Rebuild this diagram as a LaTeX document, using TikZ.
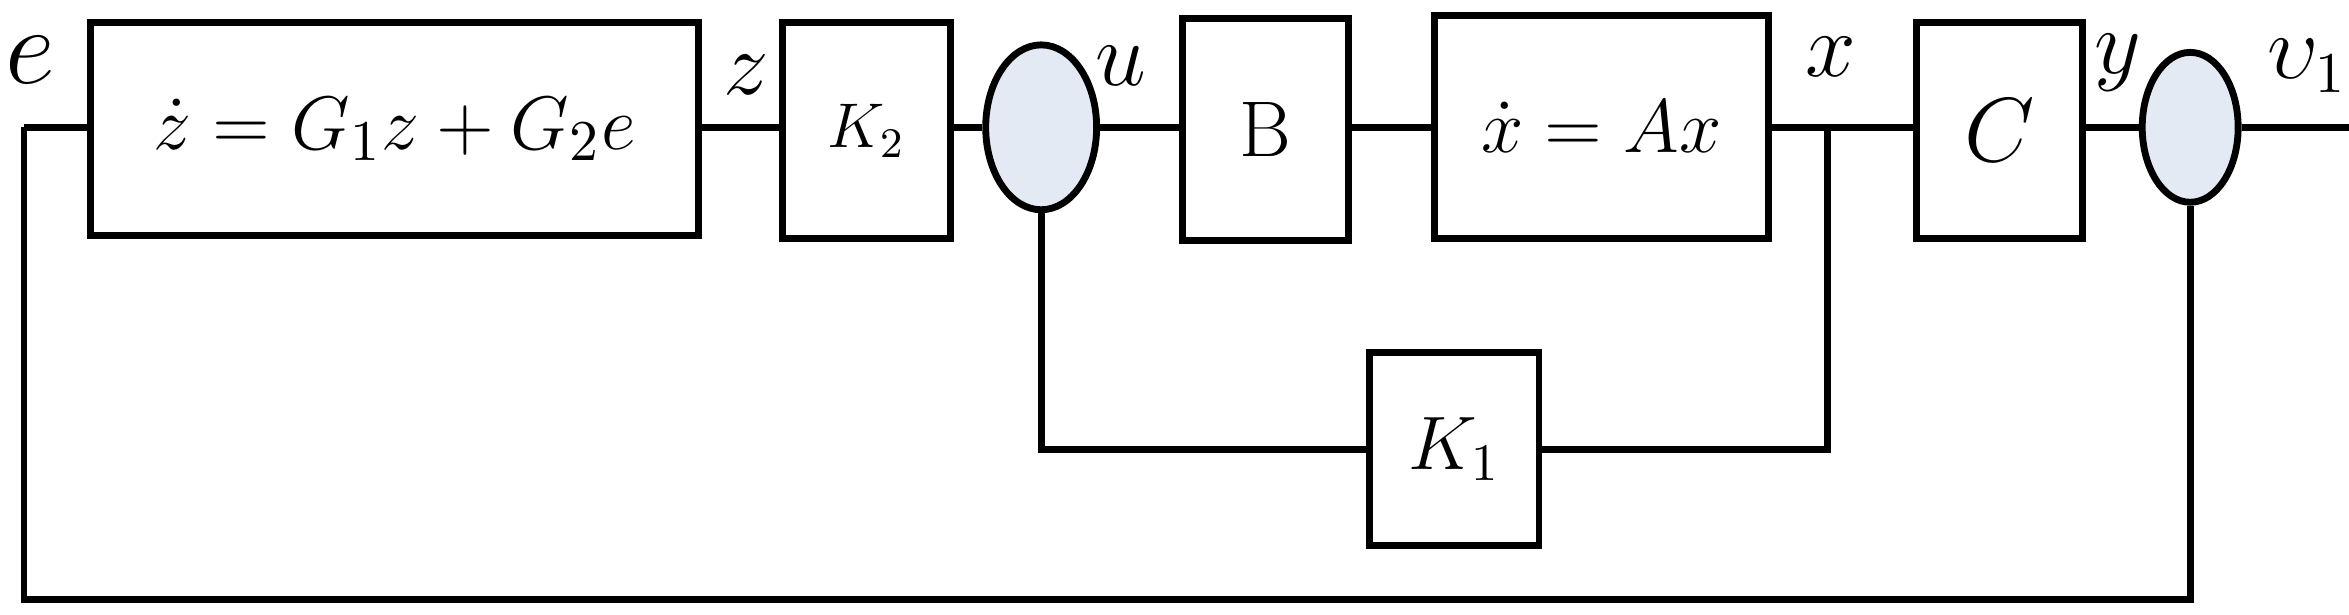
\documentclass[tikz,border=0pt]{standalone}
\usetikzlibrary{shapes.geometric}
\definecolor{sumfill}{RGB}{228,234,244}
\tikzset{
    blk/.style={draw, line width=1.3pt, inner sep=0pt, anchor=north west},
    summer/.style={draw, ellipse, fill=sumfill, line width=1.3pt, inner sep=0pt},
    wire/.style={line width=1.3pt},
    lbl/.style={font=\fontsize{16}{18}\selectfont}
}
\begin{document}
\begin{tikzpicture}[x=0.01cm, y=-0.01cm]
    \useasboundingbox (0,0) rectangle (1568,410);
    % forward path
    \node[blk, minimum width=4.06cm, minimum height=1.42cm] (obs) at (58,13)
        {\fontsize{15}{17}\selectfont $\dot z = G_1 z + G_2 e$};
    \node[blk, minimum width=1.12cm, minimum height=1.44cm] (k2) at (520,13) {\fontsize{12}{14}\selectfont $K_2$};
    \node[summer, minimum width=0.74cm, minimum height=1.10cm] (s1) at (695,85) {};
    \node[blk, minimum width=1.11cm, minimum height=1.48cm] (b) at (787,10) {\fontsize{15}{17}\selectfont B};
    \node[blk, minimum width=2.23cm, minimum height=1.49cm] (plant) at (955,8) {\fontsize{15}{17}\selectfont $\dot x = Ax$};
    \node[blk, minimum width=1.11cm, minimum height=1.44cm] (c) at (1277,13) {\fontsize{17}{19}\selectfont $C$};
    \node[summer, minimum width=0.64cm, minimum height=1.00cm] (s2) at (1462,85) {};
    % feedback gain
    \node[blk, minimum width=1.13cm, minimum height=1.29cm] (k1) at (912,233) {\fontsize{14}{16}\selectfont $K_1$};
    \coordinate (ein) at (16,85);
    \coordinate (xtap) at (1220,85);
    \coordinate (out) at (1568,85);
    % wires
    \draw[wire] (ein) -- (obs.west |- ein);
    \draw[wire] (obs.east |- ein) -- (k2.west |- ein);
    \draw[wire] (k2.east |- ein) -- (s1.west);
    \draw[wire] (s1.east) -- (b.west |- ein);
    \draw[wire] (b.east |- ein) -- (plant.west |- ein);
    \draw[wire] (plant.east |- ein) -- (c.west |- ein);
    \draw[wire] (c.east |- ein) -- (s2.west);
    \draw[wire] (s2.east) -- (out);
    \draw[wire] (s1.south) |- (k1.west);
    \draw[wire] (k1.east) -| (xtap);
    \draw[wire] (s2.south) |- (16,400) -- (ein);
    % signal labels
    \node[lbl, font=\fontsize{20}{22}\selectfont] (le) at (20,40) {$e$};
    \node[lbl] (lz) at (498,50) {$z$};
    \node[lbl] (lu) at (748,44) {$u$};
    \node[lbl] (lx) at (1222,38) {$x$};
    \node[lbl] (ly) at (1414,42) {$y$};
    \node[lbl] (lv) at (1540,44) {$\upsilon_1$};
\end{tikzpicture}
\end{document}
